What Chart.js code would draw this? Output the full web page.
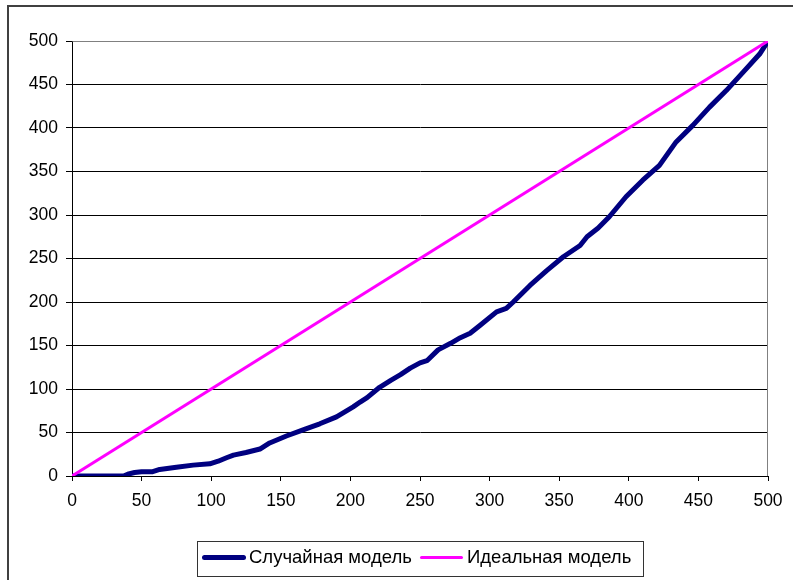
<!DOCTYPE html>
<html>
<head>
<meta charset="utf-8">
<script src="https://cdn.jsdelivr.net/npm/chart.js@4/dist/chart.umd.min.js"></script>
<style>
  html, body { margin: 0; padding: 0; background: #fff; overflow: hidden; }
  #wrap { position: relative; width: 793px; height: 580px; }
  #frame { position: absolute; left: 7px; top: 5px; width: 900px; height: 700px; border: 2px solid #404040; }
  canvas { position: absolute; left: 0; top: 0; }
  #legend { position: absolute; left: 197px; top: 541px; width: 445px; height: 34px; border: 1px solid #333;
    font: 18.5px "Liberation Sans", Arial, sans-serif; color: #000; }
  .item { position: absolute; top: 5px; height: 20px; line-height: 20px; white-space: nowrap; }
  .swatch { position: absolute; border-radius: 3px; }
</style>
</head>
<body>
<div id="wrap">
  <div id="frame"></div>
  <canvas id="chart" width="793" height="580"></canvas>
  <div id="legend"></div>
</div>
<script>
// random model curve
const randomX = [0, 37, 40, 45, 50, 58, 63, 75, 87, 99, 105, 111, 116, 125, 135, 142, 154, 166, 178, 190,
  202, 207, 212, 221, 229, 236, 243, 250, 255, 263, 272, 279, 286, 293, 305, 312, 317, 329, 341, 353,
  365, 370, 378, 386, 398, 410, 422, 434, 446, 458, 470, 482, 494, 500];
const randomY = [0, 0, 2, 4, 5, 5, 7.5, 10, 12.5, 14, 17, 21, 24, 27, 31, 38, 46, 53, 60, 68,
  79.5, 85, 90, 102, 110, 116.5, 124, 130, 132.5, 145, 152.5, 159, 164, 173, 188.7, 192.6, 200, 219, 236, 252,
  265, 275, 285, 298, 321, 340, 357, 384, 403, 424, 443, 464, 485, 500];
// ideal model
const idealX = [0, 500];
const idealY = [0, 500];

const seriesNames = ["Случайная модель", "Идеальная модель"];
const seriesColors = ["#000080", "#FF00FF"];

const font = { family: "'Liberation Sans', Arial, sans-serif", size: 17.5 };

function toPoints(xs, ys) {
  return xs.map((x, i) => ({ x: x, y: ys[i] }));
}

// gray top/right border of the plot area
const plotBorder = {
  id: "plotBorder",
  beforeDatasetsDraw(chart) {
    const a = chart.chartArea;
    const ctx = chart.ctx;
    ctx.save();
    ctx.strokeStyle = "#808080";
    ctx.lineWidth = 1;
    ctx.beginPath();
    ctx.moveTo(Math.round(a.left) + 0.5, Math.round(a.top) + 0.5);
    ctx.lineTo(Math.round(a.right) - 0.5, Math.round(a.top) + 0.5);
    ctx.lineTo(Math.round(a.right) - 0.5, Math.round(a.bottom));
    ctx.stroke();
    ctx.restore();
  }
};

new Chart(document.getElementById("chart"), {
  type: "scatter",
  data: {
    datasets: [
      {
        label: seriesNames[0],
        data: toPoints(randomX, randomY),
        showLine: true,
        borderColor: seriesColors[0],
        backgroundColor: seriesColors[0],
        borderWidth: 5,
        borderJoinStyle: "round",
        borderCapStyle: "round",
        pointRadius: 0,
        order: 1
      },
      {
        label: seriesNames[1],
        data: toPoints(idealX, idealY),
        showLine: true,
        borderColor: seriesColors[1],
        backgroundColor: seriesColors[1],
        borderWidth: 3,
        pointRadius: 0,
        order: 0
      }
    ]
  },
  options: {
    responsive: false,
    animation: false,
    events: [],
    layout: { padding: { left: 0, top: 41, right: 25, bottom: 0 } },
    plugins: { legend: { display: false }, tooltip: { enabled: false } },
    scales: {
      x: {
        type: "linear",
        min: 0, max: 500,
        afterFit: (s) => { s.height = 104; },
        ticks: { stepSize: 50, color: "#000", font: font, padding: 10, maxRotation: 0 },
        grid: { drawOnChartArea: false, drawTicks: true, tickLength: 5, color: "#000" },
        border: { color: "#000", width: 1 }
      },
      y: {
        type: "linear",
        min: 0, max: 500,
        afterFit: (s) => { s.width = 72; },
        ticks: { stepSize: 50, color: "#000", font: font, padding: 8 },
        grid: { color: "#000", lineWidth: 1, tickLength: 6 },
        border: { color: "#000", width: 1 }
      }
    }
  },
  plugins: [plotBorder]
});

// legend box, drawn like the spreadsheet one
const legend = document.getElementById("legend");
const swatchLeft = [4, 222];
const swatchWidth = [44, 43];
const swatchHeight = [5, 3];
const textLeft = [51, 269];
seriesNames.forEach((name, i) => {
  const sw = document.createElement("div");
  sw.className = "swatch";
  sw.style.left = swatchLeft[i] + "px";
  sw.style.width = swatchWidth[i] + "px";
  sw.style.height = swatchHeight[i] + "px";
  sw.style.top = (15 - swatchHeight[i] / 2) + "px";
  sw.style.background = seriesColors[i];
  legend.appendChild(sw);
  const t = document.createElement("span");
  t.className = "item";
  t.style.left = textLeft[i] + "px";
  t.textContent = name;
  legend.appendChild(t);
});
</script>
</body>
</html>
